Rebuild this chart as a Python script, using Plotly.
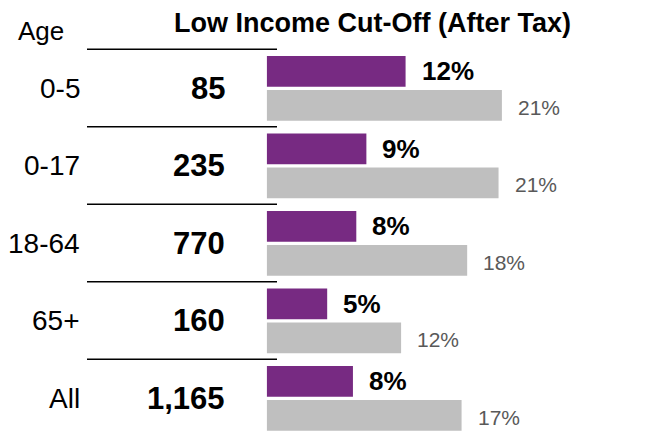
import plotly.graph_objects as go

ages = ["0-5", "0-17", "18-64", "65+", "All"]
counts = ["85", "235", "770", "160", "1,165"]
purple_vals = [12.4, 8.9, 8.0, 5.4, 7.7]
purple_labels = ["12%", "9%", "8%", "5%", "8%"]
gray_vals = [21.0, 20.7, 17.9, 12.0, 17.4]
gray_labels = ["21%", "21%", "18%", "12%", "17%"]
title_text = "Low Income Cut-Off (After Tax)"
age_header = "Age"

FONT = "Liberation Sans, Arial, sans-serif"
PURPLE = "#772A82"
GRAY = "#BFBFBF"
PAGE_OFF = 8  # browser default body margin
W, H = 657 - PAGE_OFF, 432 - PAGE_OFF


def px(x):
    return (x - PAGE_OFF) / W


def py(y):
    return 1 - (y - PAGE_OFF) / H


off = 0.219
bw = 0.396
idx = list(range(len(ages)))

# y mapping: group 0 centre at window pixel 88.4, pitch 77.5 px
pitch = 77.5
y0pix = 88.4 - PAGE_OFF
y_top = -y0pix / pitch
y_bot = (H - y0pix) / pitch

fig = go.Figure()
fig.add_trace(go.Bar(orientation="h", x=purple_vals, y=[i - off for i in idx],
                     width=bw, marker=dict(color=PURPLE, line=dict(width=0)),
                     hoverinfo="skip", showlegend=False))
fig.add_trace(go.Bar(orientation="h", x=gray_vals, y=[i + off for i in idx],
                     width=bw, marker=dict(color=GRAY, line=dict(width=0)),
                     hoverinfo="skip", showlegend=False))

ann = []
for i in idx:
    ann.append(dict(x=px(82), xref="paper", y=i, yref="y", text=ages[i],
                    showarrow=False, xanchor="right", yanchor="middle",
                    font=dict(family=FONT, size=28, color="#000000")))
    ann.append(dict(x=px(227), xref="paper", y=i, yref="y", text="<b>%s</b>" % counts[i],
                    showarrow=False, xanchor="right", yanchor="middle",
                    font=dict(family=FONT, size=31, color="#000000")))
    ann.append(dict(x=purple_vals[i], xref="x", y=i - off, yref="y",
                    text="<b>%s</b>" % purple_labels[i], xshift=14,
                    showarrow=False, xanchor="left", yanchor="middle",
                    font=dict(family=FONT, size=26, color="#000000")))
    ann.append(dict(x=gray_vals[i], xref="x", y=i + off, yref="y",
                    text=gray_labels[i], xshift=14, yshift=-2,
                    showarrow=False, xanchor="left", yanchor="middle",
                    font=dict(family=FONT, size=21, color="#595959")))

ann.append(dict(x=px(41), xref="paper", y=py(31), yref="paper", text=age_header,
                showarrow=False, xanchor="center", yanchor="middle",
                font=dict(family=FONT, size=26, color="#000000")))
ann.append(dict(x=px(372.5), xref="paper", y=py(23), yref="paper",
                text="<b>%s</b>" % title_text,
                showarrow=False, xanchor="center", yanchor="middle",
                font=dict(family=FONT, size=27, color="#000000")))

shapes = []
for i in idx:
    shapes.append(dict(type="line", xref="paper", yref="y",
                       x0=px(87), x1=px(277), y0=i - 0.505, y1=i - 0.505,
                       line=dict(color="#000000", width=1.5)))

fig.update_layout(
    width=W, height=H, autosize=False,
    margin=dict(l=0, r=0, t=0, b=0, pad=0),
    paper_bgcolor="white", plot_bgcolor="white",
    barmode="overlay",
    xaxis=dict(domain=[px(266.7), 1.0], range=[0, (657 - 266.7) / 11.2],
               visible=False, fixedrange=True),
    yaxis=dict(range=[y_bot, y_top], visible=False, fixedrange=True),
    annotations=ann, shapes=shapes,
    font=dict(family=FONT),
)

fig.write_html("out.html")
